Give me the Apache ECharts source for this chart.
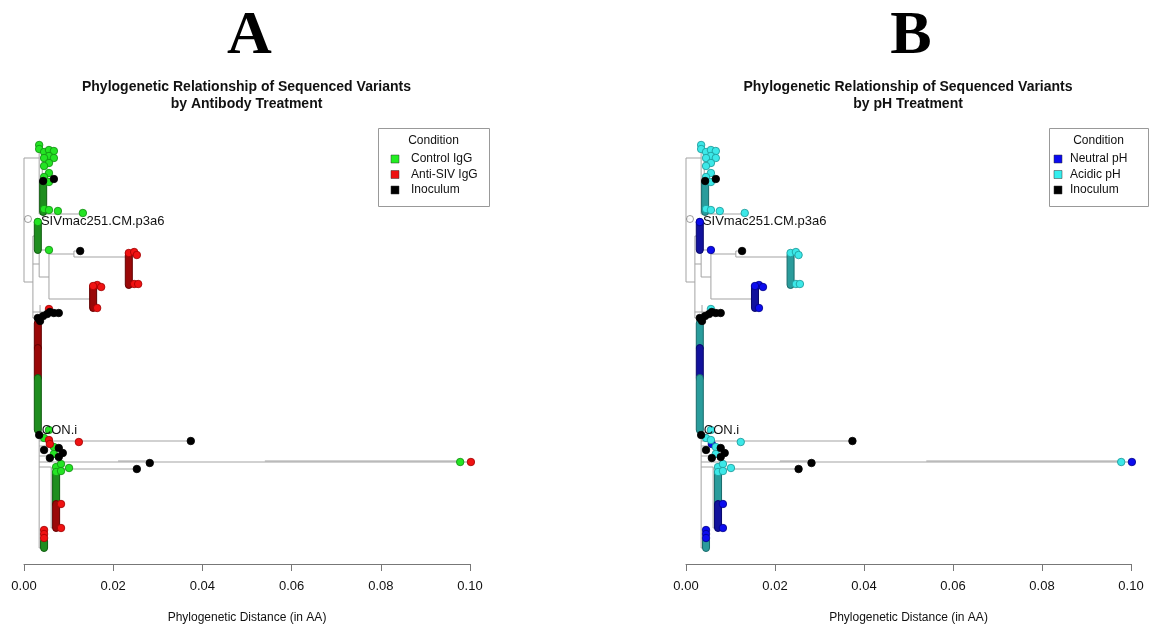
<!DOCTYPE html>
<html><head><meta charset="utf-8">
<script src="https://cdn.jsdelivr.net/npm/echarts@6/dist/echarts.min.js"></script>
<style>html,body{margin:0;padding:0;background:#fff}#c{width:1149px;height:629px}</style>
</head><body><div id="c"></div>
<script>
// ---------------- DATA ----------------
const panelLetters = ['A', 'B'];
const panelTitles = [
  'Phylogenetic Relationship of Sequenced Variants\nby Antibody Treatment',
  'Phylogenetic Relationship of Sequenced Variants\nby pH Treatment'
];
const axisTitle = 'Phylogenetic Distance (in AA)';
const xTicks = [0, 0.02, 0.04, 0.06, 0.08, 0.10];
const condNamesA = ['Control IgG', 'Anti-SIV IgG', 'Inoculum'];
const condNamesB = ['Neutral pH', 'Acidic pH', 'Inoculum'];

// tips: distance (AA), tree row position, condition in A (G/R/K), condition in B (N/A/K)
const tipDist = [
  0.0034,0.0034,0.0045,0.0056,0.0067,0.0056,0.0045,0.0067,0.0056,0.0045,0.0056,0.0045,0.0056,
  0.0067,0.0043,
  0.0045,0.0056,0.0076,0.0132,
  0.0031,0.0056,0.0126,
  0.0235,0.0247,0.0253,0.0247,0.0256,
  0.0164,0.0173,0.0155,0.0164,
  0.0031,0.0036,0.0043,0.0052,0.0058,0.0067,0.0078,0.0056,
  0.0034,0.0045,0.0056,0.0056,0.0058,0.0123,0.0374,0.0045,0.0067,0.0078,0.0087,0.0058,0.0067,0.0078,
  0.0282,0.0978,0.1002,0.0253,
  0.0072,0.0083,0.0072,0.0083,0.0101,
  0.0083,0.0083,
  0.0045,0.0045,0.0045
];
const tipRow = [
  5,9,12,10,11,16,18,18,23,26,33,37,42,
  39,41,
  69,70,71,73,
  82,110,111,
  113,112,115,144,144,
  145,147,146,168,
  178,181,176,174,172,173,173,169,
  295,298,290,300,304,302,301,310,307,308,313,318,314,317,
  323,322,322,329,
  327,324,332,331,328,
  364,388,
  390,394,398
];
const tipCondA = [
  'G','G','G','G','G','G','G','G','G','G','G','G','G',
  'K','K',
  'G','G','G','G',
  'G','G','K',
  'R','R','R','R','R',
  'R','R','R','R',
  'K','K','K','K','K','K','K','R',
  'K','G','G','R','R','R','K','K','G','K','K','K','G','K',
  'K','G','R','K',
  'G','G','G','G','G',
  'R','R',
  'R','R','R'
];
const tipCondB = [
  'A','A','A','A','A','A','A','A','A','A','A','A','A',
  'K','K',
  'A','A','A','A',
  'N','N','K',
  'A','A','A','A','A',
  'N','N','N','N',
  'K','K','K','K','K','K','K','A',
  'K','A','A','A','N','A','K','K','A','K','K','K','A','K',
  'K','A','N','K',
  'A','A','A','A','A',
  'N','N',
  'N','N','N'
];

// dense runs of tips (stacked sequences): distance, first row, last row, condition A / B
const runDist  = [0.0043, 0.0031, 0.0235, 0.0155, 0.0031, 0.0031, 0.0031, 0.0072, 0.0072, 0.0045];
const runFrom  = [42, 82, 115, 147, 183, 208, 238, 332, 364, 401];
const runTo    = [72, 110, 145, 168, 208, 238, 290, 364, 388, 408];
const runCondA = ['G','G','R','R','R','R','G','G','R','G'];
const runCondB = ['A','N','A','N','A','N','A','A','N','A'];

// horizontal branches: row, from distance, to distance
const hRow  = [18, 79, 142, 74, 96, 124, 110, 137, 114, 111, 117, 159, 172, 178, 301, 322, 321, 321, 329, 327, 388, 408, 306, 316];
const hFrom = [0, 0, 0, 0.0034, 0.002, 0.002, 0.0034, 0.0034, 0.0056, 0.0112, 0.0112, 0.0056, 0.002, 0.002, 0.0034, 0.0034, 0.0211, 0.054, 0.0061, 0.0034, 0.0061, 0.0034, 0.0034, 0.0034];
const hTo   = [0.0034, 0.0009, 0.002, 0.0132, 0.0031, 0.0034, 0.0056, 0.0056, 0.0112, 0.0126, 0.0233, 0.0155, 0.0058, 0.0034, 0.0374, 0.1002, 0.0282, 0.0978, 0.0253, 0.0061, 0.0072, 0.0045, 0.0078, 0.0078];
// vertical connectors: distance, from row, to row
const vDist = [0, 0.0034, 0.0041, 0.002, 0.0034, 0.0056, 0.0112, 0.0034, 0.0061, 0.0036];
const vFrom = [18, 5, 10, 96, 110, 114, 111, 178, 327, 165];
const vTo   = [142, 74, 40, 178, 137, 159, 117, 408, 388, 180];

// tip labels
const labelText = ['SIVmac251.CM.p3a6', 'CON.i'];
const labelDist = [0.0038, 0.0040];
const labelRow  = [81, 290];
const refDist = [0.0009];
const refRow  = [79];

// ---------------- STYLE ----------------
const FONT = '"Liberation Sans", Arial, sans-serif';
const dotStyle = {
  G: {color: '#24e424', borderColor: '#118a11'},
  R: {color: '#f01212', borderColor: '#a00000'},
  N: {color: '#0c0cee', borderColor: '#000088'},
  A: {color: '#3ce8e8', borderColor: '#1a9696'},
  K: {color: '#000000', borderColor: '#000000'}
};
const barStyle = {
  G: {fill: '#1f8e1f', stroke: '#0e5c0e'},
  R: {fill: '#9a0808', stroke: '#620000'},
  N: {fill: '#12129c', stroke: '#06066a'},
  A: {fill: '#2a9c9c', stroke: '#196a6a'},
  K: {fill: '#000', stroke: '#000'}
};
const legendColors = {G: '#22ee22', R: '#ee1111', N: '#0a0af0', A: '#33eeee', K: '#000000'};
const panelLeft = [24, 686];
const panelWidth = [446, 445];
const legendBox = [{x: 378, w: 111}, {x: 1049, w: 99}];

const edgeData = hRow.map((r, i) => [hFrom[i], r, hTo[i], r])
  .concat(vDist.map((d, i) => [d, vFrom[i], d, vTo[i]]));

const series = [];
const graphic = [];
const grids = [], xAxes = [], yAxes = [];

[0, 1].forEach(p => {
  const condArr = p === 0 ? tipCondA : tipCondB;
  const runCond = p === 0 ? runCondA : runCondB;
  const names = p === 0 ? condNamesA : condNamesB;
  const codes = p === 0 ? ['G', 'R', 'K'] : ['N', 'A', 'K'];
  grids.push({left: panelLeft[p], width: panelWidth[p], top: 140, height: 424, outerBoundsMode: 'none'});
  xAxes.push({
    gridIndex: p, type: 'value', min: 0, max: 0.1, interval: 0.02, position: 'bottom',
    axisLine: {onZero: false, lineStyle: {color: '#777', width: 1}},
    axisTick: {length: 7, lineStyle: {color: '#777'}},
    axisLabel: {fontSize: 13, color: '#111', margin: 16, fontFamily: FONT,
      formatter: v => xTicks.includes(+v.toFixed(2)) ? v.toFixed(2) : ''},
    splitLine: {show: false},
    name: axisTitle, nameLocation: 'middle', nameGap: 48,
    nameTextStyle: {fontSize: 12, color: '#111', fontFamily: FONT}
  });
  yAxes.push({gridIndex: p, type: 'value', min: 0, max: 424, inverse: true, show: false});

  // branches
  series.push({
    type: 'custom', xAxisIndex: p, yAxisIndex: p, z: 1, silent: true,
    encode: {x: [0, 2], y: [1, 3]},
    data: edgeData,
    renderItem: (params, api) => {
      const a = api.coord([api.value(0), api.value(1)]);
      const b = api.coord([api.value(2), api.value(3)]);
      return {type: 'line', shape: {x1: a[0], y1: a[1], x2: b[0], y2: b[1]},
        style: {stroke: '#a3a3a3', lineWidth: 1}};
    }
  });
  // dense tip runs
  series.push({
    type: 'custom', xAxisIndex: p, yAxisIndex: p, z: 2, silent: true,
    encode: {x: 0, y: [1, 2]},
    data: runDist.map((d, i) => [d, runFrom[i], runTo[i]]),
    renderItem: (params, api) => {
      const a = api.coord([api.value(0), api.value(1)]);
      const b = api.coord([api.value(0), api.value(2)]);
      const st = barStyle[runCond[params.dataIndex]];
      return {type: 'rect', shape: {x: a[0] - 3.5, y: a[1] - 3.5, width: 7, height: b[1] - a[1] + 7, r: 3.5},
        style: {fill: st.fill, stroke: st.stroke, lineWidth: 1}};
    }
  });
  // tips per condition
  codes.forEach((c, k) => {
    const data = [];
    tipDist.forEach((d, i) => { if (condArr[i] === c) data.push([d, tipRow[i]]); });
    series.push({
      type: 'scatter', name: names[k], xAxisIndex: p, yAxisIndex: p, z: 3 + k * 0.1, clip: false,
      symbolSize: 7.5, data,
      itemStyle: {color: dotStyle[c].color, borderColor: dotStyle[c].borderColor, borderWidth: 0.8, opacity: 1}
    });
  });
  // reference (open circle)
  series.push({
    type: 'scatter', xAxisIndex: p, yAxisIndex: p, z: 4, symbolSize: 7, clip: false,
    data: refDist.map((d, i) => [d, refRow[i]]),
    itemStyle: {color: '#fff', borderColor: '#666', borderWidth: 0.8}
  });
  // tip labels
  series.push({
    type: 'custom', xAxisIndex: p, yAxisIndex: p, z: 5, silent: true,
    encode: {x: 0, y: 1},
    data: labelDist.map((d, i) => [d, labelRow[i]]),
    renderItem: (params, api) => {
      const a = api.coord([api.value(0), api.value(1)]);
      return {type: 'text', x: a[0], y: a[1],
        style: {text: labelText[params.dataIndex], fill: '#111', font: '13px ' + FONT,
          align: 'left', verticalAlign: 'middle'}};
    }
  });

  const cx = panelLeft[p] + panelWidth[p] / 2 - 0.5;
  graphic.push({type: 'text', x: cx + 3, y: 37, style: {text: panelLetters[p], fill: '#000',
    font: 'bold 62px "Liberation Serif", "Times New Roman", serif', align: 'center', verticalAlign: 'middle'}});
  graphic.push({type: 'text', x: cx, y: 79, style: {text: panelTitles[p], fill: '#111',
    font: 'bold 14px ' + FONT, align: 'center', verticalAlign: 'top', lineHeight: 17}});

  // legend
  const lb = legendBox[p];
  graphic.push({type: 'rect', shape: {x: lb.x + 0.5, y: 128.5, width: lb.w, height: 78},
    style: {fill: '#fff', stroke: '#999', lineWidth: 1}, z: 10});
  graphic.push({type: 'text', x: lb.x + lb.w / 2, y: 141, z: 11,
    style: {text: 'Condition', fill: '#111', font: '12px ' + FONT, align: 'center', verticalAlign: 'middle'}});
  const sqX = p === 0 ? 391 : 1054;
  const txX = p === 0 ? 411 : 1070;
  [159, 174.5, 190].forEach((yy, k) => {
    graphic.push({type: 'rect', z: 11, shape: {x: sqX, y: yy - 4, width: 8, height: 8},
      style: {fill: legendColors[codes[k]], stroke: '#333', lineWidth: 0.5}});
    graphic.push({type: 'text', x: txX, y: yy, z: 11,
      style: {text: names[k], fill: '#111', font: '12px ' + FONT, align: 'left', verticalAlign: 'middle'}});
  });
});

const chart = echarts.init(document.getElementById('c'), null, {renderer: 'canvas'});
chart.setOption({
  animation: false,
  backgroundColor: '#fff',
  textStyle: {fontFamily: FONT},
  grid: grids, xAxis: xAxes, yAxis: yAxes,
  series, graphic
});
</script>
</body></html>
